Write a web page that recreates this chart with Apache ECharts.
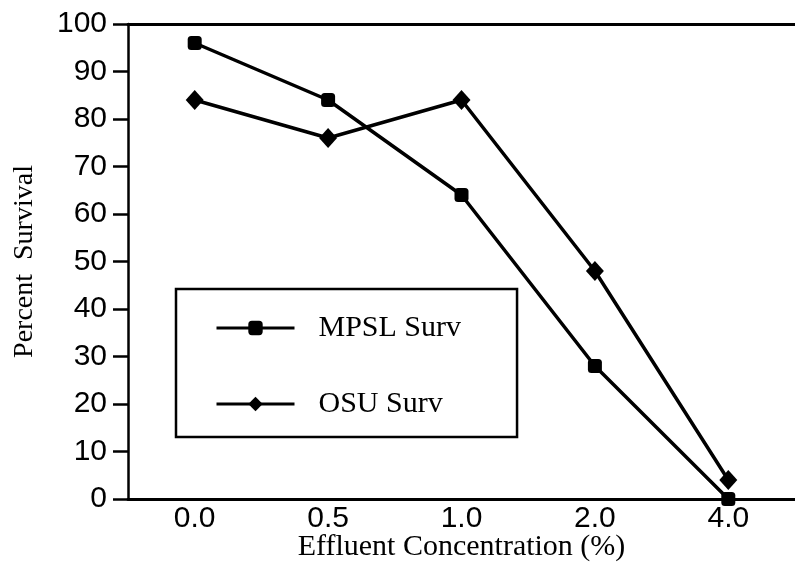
<!DOCTYPE html>
<html>
<head>
<meta charset="utf-8">
<script src="https://cdn.jsdelivr.net/npm/echarts@6/dist/echarts.min.js"></script>
<style>html,body{margin:0;padding:0;background:#fff}#c{width:795px;height:585px}</style>
</head>
<body>
<div id="c"></div>
<script>
var categories = ['0.0', '0.5', '1.0', '2.0', '4.0'];
var mpslSurv = [96, 84, 64, 28, 0];
var osuSurv = [84, 76, 84, 48, 4];
var seriesNames = ['MPSL Surv', 'OSU Surv'];
var xTitle = 'Effluent Concentration (%)';
var yTitle = 'Percent  Survival';

var chart = echarts.init(document.getElementById('c'));
var serif = '"Liberation Serif", "DejaVu Serif", serif';
var sans = '"Liberation Sans", Arial, sans-serif';
chart.setOption({
  animation: false,
  backgroundColor: '#fff',
  grid: { left: 128, right: 0, top: 24, bottom: 86 },
  legend: {
    orient: 'vertical',
    left: 176, top: 289,
    padding: [24, 56, 18, 39],
    borderColor: '#000', borderWidth: 2.5,
    itemWidth: 78, itemHeight: 18,
    itemGap: 46,
    lineStyle: { width: 3, color: '#000' },
    textStyle: { fontFamily: serif, fontSize: 30, color: '#000', padding: [0, 0, 0, 19] },
    data: seriesNames
  },
  xAxis: [{
    type: 'category', data: categories, boundaryGap: true,
    axisLine: { lineStyle: { color: '#000', width: 3 } },
    axisTick: { show: false },
    axisLabel: { fontFamily: sans, fontSize: 30, color: '#000', margin: 5 },
    name: xTitle, nameLocation: 'middle', nameGap: 33, nameMoveOverlap: false,
    nameTextStyle: { fontFamily: serif, fontSize: 30, color: '#000' }
  }, {
    type: 'category', data: categories, position: 'top',
    axisLine: { lineStyle: { color: '#000', width: 3 } },
    axisTick: { show: false }, axisLabel: { show: false }
  }],
  yAxis: {
    type: 'value', min: 0, max: 100, interval: 10,
    axisLine: { show: true, lineStyle: { color: '#000', width: 2.5 } },
    axisTick: { show: true, inside: false, length: 15, lineStyle: { color: '#000', width: 2.5 } },
    splitLine: { show: false },
    axisLabel: { fontFamily: sans, fontSize: 30, color: '#000', margin: 21 },
    name: yTitle, nameLocation: 'middle', nameGap: 89, nameMoveOverlap: false,
    nameTextStyle: { fontFamily: serif, fontSize: 28, color: '#000' }
  },
  series: [{
    name: seriesNames[0], type: 'line', data: mpslSurv,
    symbol: 'roundRect', symbolSize: 14,
    lineStyle: { color: '#000', width: 3.5 },
    itemStyle: { color: '#000' }
  }, {
    name: seriesNames[1], type: 'line', data: osuSurv,
    symbol: 'diamond', symbolSize: [18, 20],
    lineStyle: { color: '#000', width: 3.5 },
    itemStyle: { color: '#000' }
  }]
});
</script>
</body>
</html>
